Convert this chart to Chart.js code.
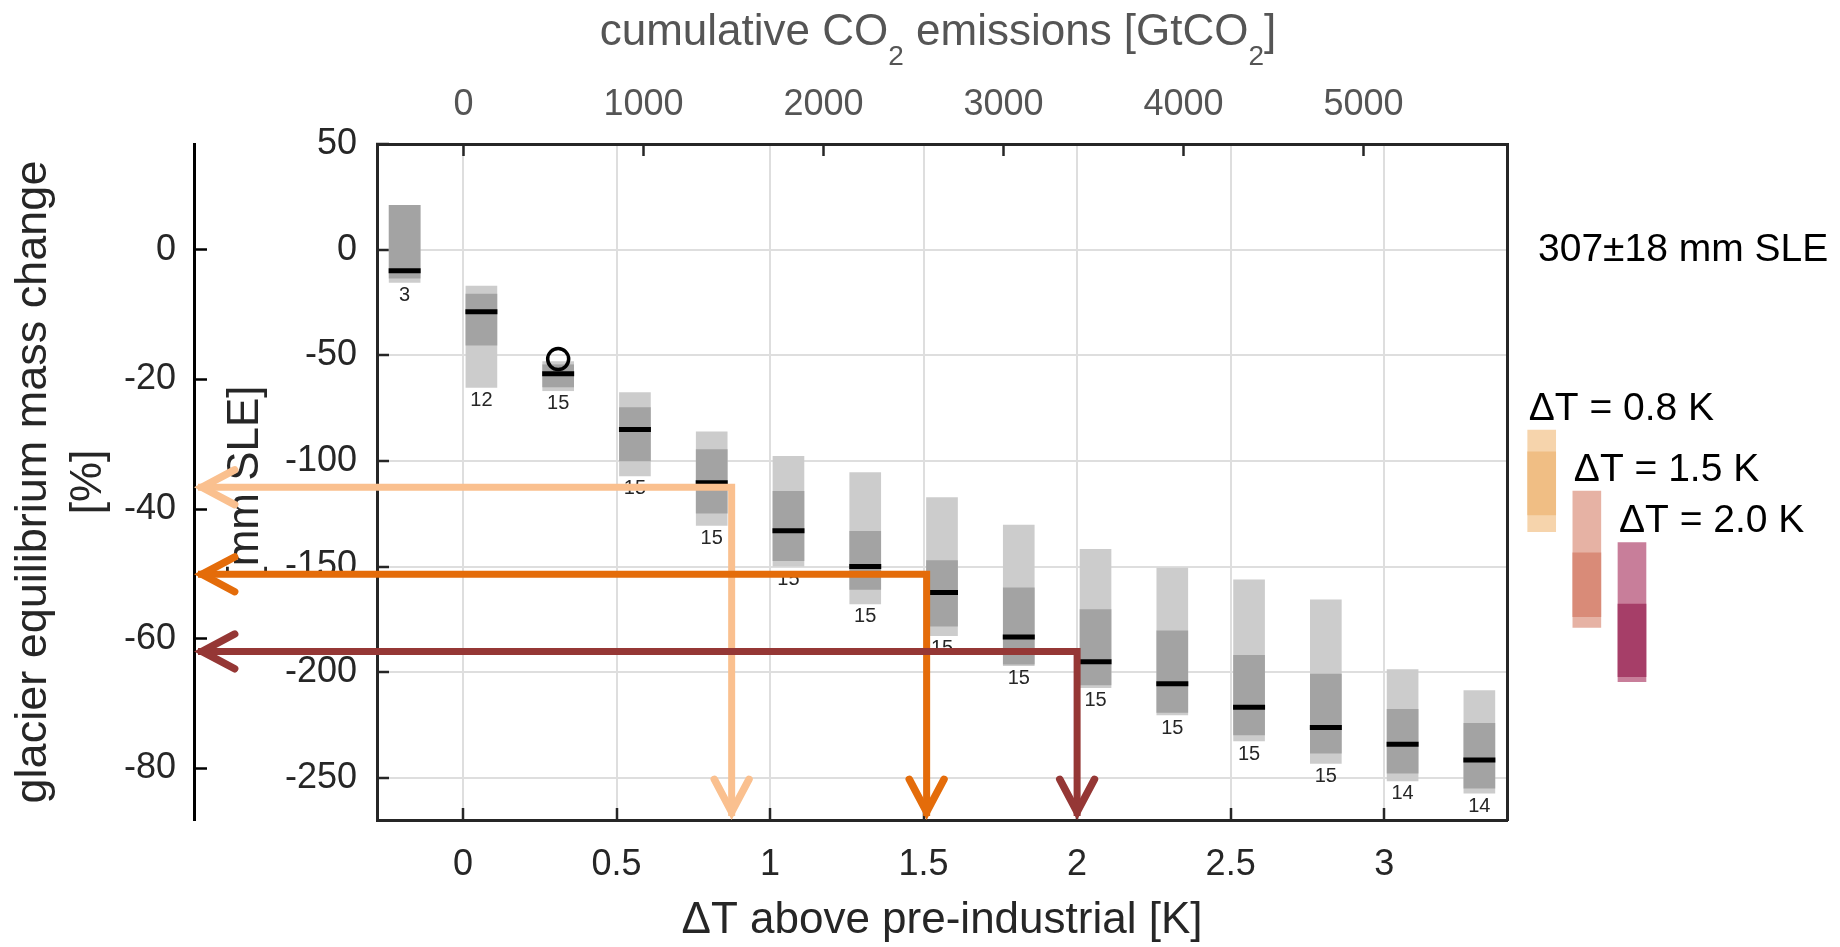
<!DOCTYPE html>
<html>
<head>
<meta charset="utf-8">
<script src="https://cdn.jsdelivr.net/npm/chart.js@4"></script>
<style>
  html, body { margin: 0; padding: 0; background: #fff; }
  #wrap { width: 1840px; height: 947px; position: relative; }
</style>
</head>
<body>
<div id="wrap"><canvas id="c"></canvas></div>
<script>
// ---------------- data ----------------
const dT        = [-0.19, 0.06, 0.31, 0.56, 0.81, 1.06, 1.31, 1.56, 1.81, 2.06, 2.31, 2.56, 2.81, 3.06, 3.31];
const lightHi   = [21, -17.3, -53, -67.7, -86.2, -97.8, -105.5, -117.4, -130.4, -141.9, -150.8, -156.3, -165.8, -198.8, -208.7];
const darkHi    = [21, -21, -54.5, -74.8, -94.6, -114.4, -133.4, -147.2, -160.1, -170.4, -180.4, -192.1, -200.9, -217.6, -224.2];
const medianMM  = [-10, -29.4, -58.7, -85.2, -110.4, -133.1, -150, -162.3, -183.4, -195.1, -205.5, -216.6, -226.2, -234.1, -241.6];
const darkLo    = [-13.5, -45.2, -65, -100, -124.7, -147.2, -160.9, -178.3, -196.2, -206, -219.1, -229.7, -238.4, -247.8, -254.9];
const lightLo   = [-15.5, -65.2, -66.8, -107.1, -130.5, -149.8, -167.7, -182.8, -197, -207.3, -220.3, -232.6, -243.2, -251.5, -257.3];
const counts    = [3, 12, 15, 15, 15, 15, 15, 15, 15, 15, 15, 15, 15, 14, 14];

const obsDT = [0.31];
const obsMM = [-51.8];

const totalMM = 307;           // 307±18 mm SLE = 100 %
const totalErr = 18;

const legendDT      = [0.8, 1.5, 2.0];
const legendLightHi = [-85.4, -114.3, -138.7];
const legendDarkHi  = [-95.7, -143.5, -167.8];
const legendMedian  = [-111.9, -159.1, -191.6];
const legendDarkLo  = [-125.6, -173.8, -202.2];
const legendLightLo = [-133.5, -178.8, -204.5];

const arrowDT = [0.875, 1.51, 2.0];
const arrowMM = [-112.5, -153.7, -190.2];

const xTicks   = [0, 0.5, 1, 1.5, 2, 2.5, 3];
const yTicks   = [-250, -200, -150, -100, -50, 0, 50];
const pctTicks = [-80, -60, -40, -20, 0];
const co2Ticks = [0, 1000, 2000, 3000, 4000, 5000];

// ---------------- styles ----------------
const FONT = '"Liberation Sans", Arial, Helvetica, sans-serif';
Chart.defaults.font.family = FONT;
const AX = '#262626';
const GRID = '#dedede';
const lightGray = '#cccccc', darkGray = '#a3a3a3';
const legLight = ['rgb(246,212,172)', 'rgb(230,178,164)', 'rgb(200,126,154)'];
const legDark  = ['rgb(240,190,132)', 'rgb(217,139,120)', 'rgb(166,62,104)'];
const arrowColors = ['#FAC08F', '#E46C0A', '#953735'];

// x placement of the side "legend" bars (K units, right of the frame)
const legendX = legendDT.map((t, i) => 3.513 + 0.147 * i);

const xMin = -0.28, xMax = 3.4, yMin = -270, yMax = 50;
const co2Min = -480.6, co2Max = 5797;

const datasets = [
  { type: 'scatter', data: obsDT.map((t, i) => ({x: t, y: obsMM[i]})),
    pointStyle: 'circle', pointRadius: 10.5, borderWidth: 3.5, borderColor: '#000',
    backgroundColor: 'rgba(0,0,0,0)', order: 0 },
  { type: 'scatter', data: dT.map((t, i) => ({x: t, y: medianMM[i]})),
    pointStyle: 'line', pointRadius: 16, borderWidth: 5, borderColor: '#000', order: 1 },
  { type: 'bar', data: dT.map((t, i) => ({x: t, y: [darkLo[i], darkHi[i]]})),
    backgroundColor: darkGray, barThickness: 31, grouped: false, borderWidth: 0, order: 2 },
  { type: 'bar', data: dT.map((t, i) => ({x: t, y: [lightLo[i], lightHi[i]]})),
    backgroundColor: lightGray, barThickness: 31, grouped: false, borderWidth: 0, order: 3 },
  // side legend bars
  { type: 'scatter', data: legendDT.map((t, i) => ({x: legendX[i], y: legendMedian[i]})),
    pointStyle: 'line', pointRadius: 14.5, borderWidth: 5, borderColor: '#000', order: 4, clip: false },
  { type: 'bar', data: legendDT.map((t, i) => ({x: legendX[i], y: [legendDarkLo[i], legendDarkHi[i]]})),
    backgroundColor: legDark, barThickness: 28, grouped: false, borderWidth: 0, order: 5, clip: false },
  { type: 'bar', data: legendDT.map((t, i) => ({x: legendX[i], y: [legendLightLo[i], legendLightHi[i]]})),
    backgroundColor: legLight, barThickness: 28, grouped: false, borderWidth: 0, order: 6, clip: false },
];

function chevron(ctx, tx, ty, dx, dy, color) {
  const L = 37, ang = 28 * Math.PI / 180, w = 7.5;
  const inset = (w / 2) / Math.sin(ang);
  const px = tx - dx * inset, py = ty - dy * inset;
  const bx = -dx, by = -dy;
  const c = Math.cos(ang), s = Math.sin(ang);
  const a1x = bx * c - by * s, a1y = bx * s + by * c;
  const a2x = bx * c + by * s, a2y = -bx * s + by * c;
  ctx.save();
  ctx.strokeStyle = color; ctx.lineWidth = w; ctx.lineJoin = 'miter'; ctx.lineCap = 'round';
  ctx.beginPath();
  ctx.moveTo(px + a1x * L, py + a1y * L);
  ctx.lineTo(px, py);
  ctx.lineTo(px + a2x * L, py + a2y * L);
  ctx.stroke();
  ctx.restore();
}

const overlay = {
  id: 'overlay',
  afterDatasetsDraw(chart) {
    const {ctx, scales: {x, y}} = chart;
    ctx.save();
    ctx.font = '20px ' + FONT;
    ctx.fillStyle = AX; ctx.textAlign = 'center'; ctx.textBaseline = 'middle';
    dT.forEach((t, i) => ctx.fillText(String(counts[i]), x.getPixelForValue(t), y.getPixelForValue(lightLo[i]) + 13));
    ctx.restore();
  },
  afterDraw(chart) {
    const {ctx, chartArea, scales: {x, y, yPct, x2}} = chart;
    // arrows
    arrowDT.forEach((t, i) => {
      const cx = x.getPixelForValue(t), cy = y.getPixelForValue(arrowMM[i]);
      const leftX = yPct.right, botY = chartArea.bottom;
      ctx.save();
      ctx.strokeStyle = arrowColors[i]; ctx.lineWidth = 7; ctx.lineJoin = 'miter'; ctx.lineCap = 'butt';
      ctx.beginPath();
      ctx.moveTo(leftX + 4, cy); ctx.lineTo(cx, cy); ctx.lineTo(cx, botY - 4);
      ctx.stroke();
      ctx.restore();
      chevron(ctx, leftX, cy, -1, 0, arrowColors[i]);
      chevron(ctx, cx, botY, 0, 1, arrowColors[i]);
    });
    // side texts
    ctx.save();
    ctx.fillStyle = '#000'; ctx.textAlign = 'left'; ctx.textBaseline = 'middle';
    ctx.font = '39px ' + FONT;
    ctx.fillText(totalMM + '\u00B1' + totalErr + ' mm SLE', chartArea.right + 31, y.getPixelForValue(0) + 1);
    legendDT.forEach((t, i) => {
      const px = x.getPixelForValue(legendX[i]) - 13;
      const py = y.getPixelForValue(legendLightHi[i]) - 21;
      ctx.fillText('\u0394T = ' + t.toFixed(1) + ' K', px, py);
    });
    ctx.restore();
    // top title with subscripts
    ctx.save();
    const parts = [['cumulative CO', 0], ['2', 1], [' emissions [GtCO', 0], ['2', 1], [']', 0]];
    const big = '44px ' + FONT, small = '28px ' + FONT;
    let total = 0;
    parts.forEach(p => { ctx.font = p[1] ? small : big; total += ctx.measureText(p[0]).width; });
    let px = (chartArea.left + chartArea.right) / 2 - total / 2 - 4;
    const base = x2.top + 45;
    ctx.fillStyle = '#555555'; ctx.textAlign = 'left'; ctx.textBaseline = 'alphabetic';
    parts.forEach(p => {
      ctx.font = p[1] ? small : big;
      ctx.fillText(p[0], px, p[1] ? base + 20 : base);
      px += ctx.measureText(p[0]).width;
    });
    ctx.restore();
  }
};

const fixedTicks = arr => (s => { s.ticks = arr.map(v => ({value: v})); });
const plain = v => String(Math.round(v * 100) / 100);

new Chart(document.getElementById('c'), {
  type: 'scatter',
  data: { datasets },
  plugins: [overlay],
  options: {
    responsive: true, maintainAspectRatio: false, animation: false,
    layout: { padding: { left: 0, top: 0, right: 333, bottom: 0 } },
    plugins: { legend: { display: false }, tooltip: { enabled: false } },
    events: [],
    scales: {
      x: {
        type: 'linear', position: 'bottom', min: xMin, max: xMax, offset: false,
        afterBuildTicks: fixedTicks(xTicks),
        ticks: { color: AX, font: { size: 36 }, padding: 35, maxRotation: 0, autoSkip: false, callback: plain },
        grid: { color: GRID, lineWidth: 2, tickLength: -12, tickColor: AX, tickWidth: 2.5, offset: false },
        border: { color: AX, width: 3 },
        title: { display: true, text: '\u0394T above pre-industrial [K]', color: AX,
                 font: { size: 44, lineHeight: 1 }, padding: { top: 0, bottom: 4 } },
        afterFit: s => { s.height = 127; }
      },
      x2: {
        type: 'linear', position: 'top', min: co2Min, max: co2Max, offset: false,
        afterBuildTicks: fixedTicks(co2Ticks),
        ticks: { color: '#555555', font: { size: 36 }, padding: 29, maxRotation: 0, autoSkip: false, callback: plain },
        grid: { drawOnChartArea: false, tickLength: -12, tickColor: AX, tickWidth: 2.5 },
        border: { color: AX, width: 3 },
        afterFit: s => { s.height = 144; }
      },
      y: {
        type: 'linear', position: 'left', min: yMin, max: yMax, weight: 0,
        afterBuildTicks: fixedTicks(yTicks),
        ticks: { color: AX, font: { size: 36 }, padding: 32, autoSkip: false, callback: plain },
        grid: { color: GRID, lineWidth: 2, tickLength: -12, tickColor: AX, tickWidth: 2.5 },
        border: { color: AX, width: 3 },
        title: { display: true, text: '[mm SLE]', color: AX, font: { size: 44, lineHeight: 1.25 }, padding: { top: 24 } },
        afterFit: s => { s.width = 183; }
      },
      yPct: {
        type: 'linear', position: 'left', weight: 1,
        min: yMin / totalMM * 100, max: yMax / totalMM * 100,
        afterBuildTicks: fixedTicks(pctTicks),
        ticks: { color: AX, font: { size: 36 }, padding: 31, autoSkip: false, callback: plain },
        grid: { drawOnChartArea: false, tickLength: -13, tickColor: '#000', tickWidth: 2.5 },
        border: { color: '#000', width: 3 },
        title: { display: true, text: ['glacier equilibrium mass change', '[%]'], color: AX,
                 font: { size: 45, lineHeight: 1.22 }, padding: { top: 6 } },
        afterFit: s => { s.width = 194; }
      },
      yR: {
        type: 'linear', position: 'right', display: true,
        ticks: { display: false },
        grid: { display: false, drawTicks: false },
        border: { display: true, color: AX, width: 3 },
        afterFit: s => { s.width = 0; }
      }
    }
  }
});
</script>
</body>
</html>
